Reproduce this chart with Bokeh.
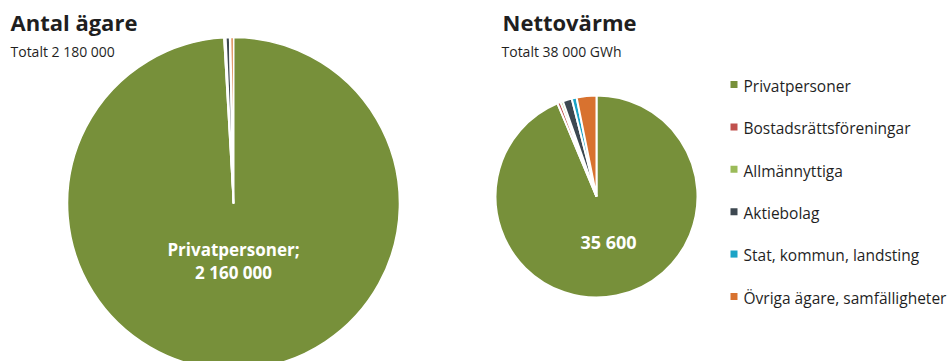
import numpy as np
from bokeh.plotting import figure
from bokeh.models import Range1d, ColumnDataSource
from bokeh.core.properties import value
from bokeh.embed import file_html
from bokeh.resources import INLINE

# ---- data ----
categories = ["Privatpersoner", "Bostadsrättsföreningar", "Allmännyttiga",
              "Aktiebolag", "Stat, kommun, landsting", "Övriga ägare, samfälligheter"]
colors = ["#77903A", "#C0504D", "#9BBB59", "#3D4851", "#1BA3C6", "#D8722F"]

owners_count = [2160000, 2000, 2000, 8000, 2000, 6000]      # Antal ägare
net_heat_gwh = [35600, 200, 150, 550, 300, 1200]            # Nettovärme, GWh

title_left = "Antal ägare"
subtitle_left = "Totalt 2 180 000"
title_right = "Nettovärme"
subtitle_right = "Totalt 38 000 GWh"

# ---- layout helpers (page pixel -> data units) ----
W, H = 950, 361
def X(px):
    return px
def Y(py):
    return H - py
def TB(py, size):
    # baseline position corrected for the renderer's text offset
    return Y(py) + 0.3 * size

FONT = value("Open Sans")
TXT = "#1F1F1F"

p = figure(width=W, height=H, output_backend="svg", toolbar_location=None,
           x_range=Range1d(0, W), y_range=Range1d(0, H),
           x_axis_type=None, y_axis_type=None, min_border=0)
p.grid.visible = False
p.outline_line_color = None
p.background_fill_color = "white"
p.border_fill_color = "white"


def fmt(n):
    return f"{n:,}".replace(",", " ")


def pie(vals, cx, cy, r, lw):
    vals = np.asarray(vals, dtype=float)
    ang = vals / vals.sum() * 2 * np.pi
    ends = np.pi / 2 - np.cumsum(ang)
    starts = ends + ang
    src = ColumnDataSource(dict(start=starts, end=ends, color=colors, label=categories))
    p.wedge(x=X(cx), y=Y(cy), radius=r, start_angle="end", end_angle="start",
            direction="anticlock", fill_color="color", line_color="white",
            line_width=lw, source=src)


pie(owners_count, 233, 203, 166, 1.6)
pie(net_heat_gwh, 596, 196, 101, 2.0)

# titles
p.text(x=[X(10)], y=[TB(28, 22)], text=[title_left], text_font=FONT, text_font_size="22px",
       text_font_style="bold", text_color=TXT, text_baseline="alphabetic")
p.text(x=[X(10)], y=[TB(55, 14)], text=[subtitle_left], text_font=FONT,
       text_font_size="14px", text_color=TXT, text_baseline="alphabetic")
p.text(x=[X(502)], y=[TB(28, 22)], text=[title_right], text_font=FONT, text_font_size="22px",
       text_font_style="bold", text_color=TXT, text_baseline="alphabetic")
p.text(x=[X(501)], y=[TB(55, 14)], text=[subtitle_right], text_font=FONT,
       text_font_size="14px", text_color=TXT, text_baseline="alphabetic")

# data labels
p.text(x=[X(233), X(233)], y=[TB(254, 17), TB(277, 17)],
       text=[categories[0] + ";", fmt(owners_count[0])],
       text_font=FONT, text_font_size="17px", text_font_style="bold",
       text_color="white", text_align="center", text_baseline="alphabetic")
p.text(x=[X(608)], y=[TB(247, 18)], text=[fmt(net_heat_gwh[0])],
       text_font=FONT, text_font_size="18px", text_font_style="bold",
       text_color="white", text_align="center", text_baseline="alphabetic")

# legend
idx = np.arange(len(categories))
row_py = [84 + 42.4 * i for i in idx]
p.scatter(x=[X(733.5)] * len(idx), y=[Y(py) for py in row_py], marker="square", size=7,
          fill_color=colors, line_color=None)
p.text(x=[X(743)] * len(idx), y=[TB(py + 6, 15.5) for py in row_py], text=categories,
       text_font=FONT, text_font_size="15.5px", text_color=TXT, text_baseline="alphabetic")

open("out.html", "w").write(file_html(p, INLINE))
